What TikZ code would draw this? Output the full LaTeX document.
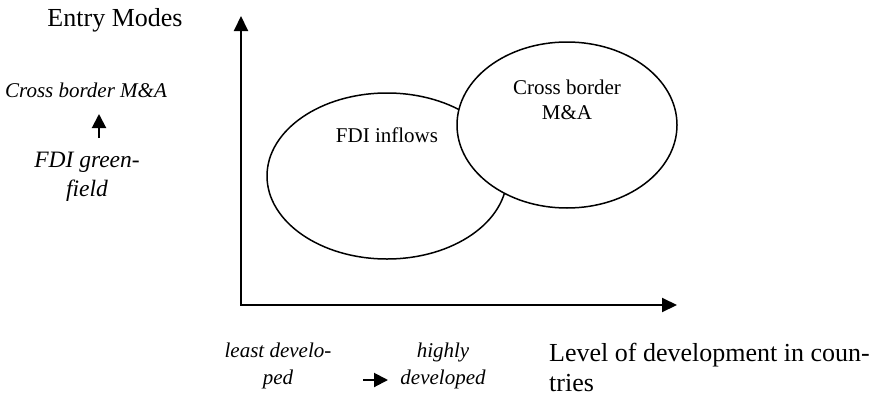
\documentclass[tikz,border=0pt]{standalone}
\usepackage{fontspec}
\setmainfont{Liberation Serif}
\usepackage{tikz}
\usetikzlibrary{shapes.geometric,arrows.meta,positioning}

\begin{document}
\begin{tikzpicture}[x=1pt, y=-1pt,
    big/.style={font=\fontsize{26}{30}\selectfont, inner sep=0pt},
    lbl/.style={font=\fontsize{21}{25}\selectfont, align=center, inner sep=0pt},
    note/.style={font=\fontsize{21}{27}\selectfont\itshape, align=center, inner sep=0pt},
    blob/.style={ellipse, draw, line width=1.5pt, inner sep=0pt},
    axis/.style={{Triangle[length=15pt,width=14pt]}-{Triangle[length=15pt,width=14pt]}, line width=2pt},
    small/.style={-{Triangle[length=14pt,width=14pt]}, line width=2pt}]

    \useasboundingbox (0,0) rectangle (880,399);

    % axes
    \coordinate (origin) at (241,305);
    \coordinate (ytip) at (241,16);
    \coordinate (xtip) at (677,305);
    \draw[axis] (ytip) -- (origin) -- (xtip);

    \node[big] (entry) at (115,20) {Entry Modes};
    \node[big, align=left, anchor=west] (level) at (549,367) {Level of development in coun-\\tries};

    % the two groups
    \node[blob, minimum width=240pt, minimum height=166pt] (inflows) at (387,176) {};
    \node[blob, fill=white, minimum width=220pt, minimum height=166pt] (mna) at (567,125) {};
    \node[lbl] (inflowsTxt) at (387,135) {FDI inflows};
    \node[lbl] (mnaTxt) at (567,100) {Cross border\\M\&A};

    % entry mode scale
    \node[note] (crossl) at (86,90) {Cross border M\&A};
    \node[note, font=\fontsize{23.5}{29}\selectfont\itshape] (green) at (87,177) {FDI green-\\field};
    \coordinate (gS) at (99,138);
    \coordinate (gN) at (99,114);
    \draw[small] (gS) -- (gN);

    % development scale
    \node[note] (least) at (278,366) {least develo-\\ped};
    \node[note] (highly) at (443,366) {highly\\developed};
    \coordinate (dW) at (363,380);
    \coordinate (dE) at (388,380);
    \draw[small] (dW) -- (dE);

\end{tikzpicture}
\end{document}
